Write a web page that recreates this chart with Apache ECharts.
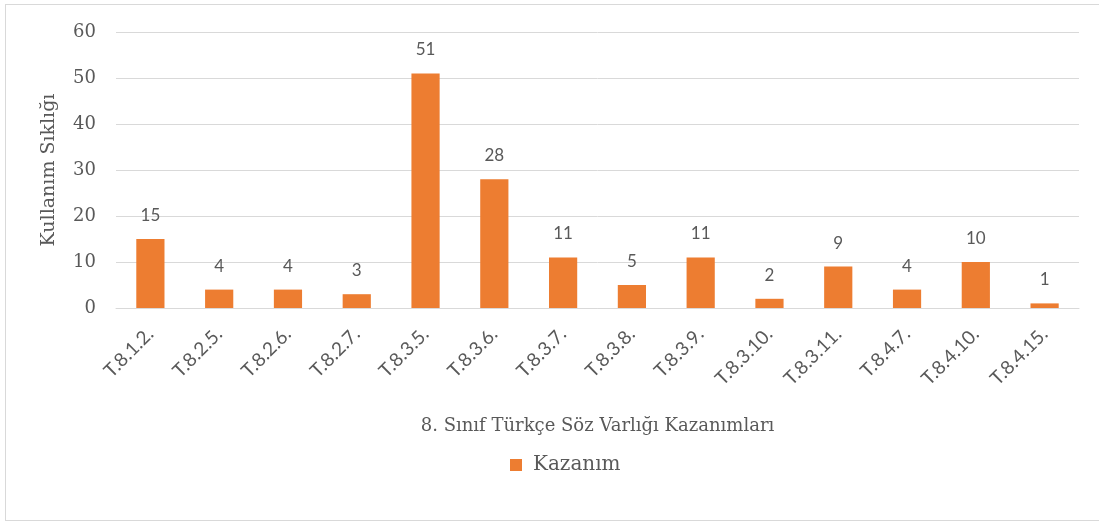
<!DOCTYPE html>
<html>
<head>
<meta charset="utf-8">
<script src="https://cdn.jsdelivr.net/npm/echarts@6/dist/echarts.min.js"></script>
<style>
  html, body { margin: 0; padding: 0; background: #fff; }
  #frame { position: absolute; left: 5px; top: 4px; width: 1100px; height: 517px;
           border: 1px solid #d9d9d9; box-sizing: border-box; }
  #main { position: absolute; left: 0; top: 0; width: 1099px; height: 523px; }
</style>
</head>
<body>
<div id="frame"></div>
<div id="main"></div>
<script>
// kazanım kodları ve kullanım sıklıkları
var categories = ['T.8.1.2.', 'T.8.2.5.', 'T.8.2.6.', 'T.8.2.7.', 'T.8.3.5.', 'T.8.3.6.', 'T.8.3.7.',
                  'T.8.3.8.', 'T.8.3.9.', 'T.8.3.10.', 'T.8.3.11.', 'T.8.4.7.', 'T.8.4.10.', 'T.8.4.15.'];
var kazanim = [15, 4, 4, 3, 51, 28, 11, 5, 11, 2, 9, 4, 10, 1];
var yTicks = [0, 10, 20, 30, 40, 50, 60];

var textColor = '#595959';
var serif = 'Georgia, "DejaVu Serif", "Liberation Serif", serif';
var sans = 'Lato, "Open Sans", sans-serif';

var myChart = echarts.init(document.getElementById('main'));
var option = {
  animation: false,
  grid: { left: 116, right: 20, top: 32, bottom: 215, containLabel: false },
  legend: {
    data: ['Kazanım'],
    left: 505,
    top: 450,
    itemWidth: 12,
    itemHeight: 12,
    icon: 'rect',
    textStyle: { color: textColor, fontFamily: serif, fontSize: 20, padding: [0, 0, 0, 6] }
  },
  xAxis: {
    type: 'category',
    data: categories,
    name: '8. Sınıf Türkçe Söz Varlığı Kazanımları',
    nameLocation: 'middle',
    nameGap: 109,
    nameTextStyle: { color: textColor, fontFamily: serif, fontSize: 18 },
    axisLine: { lineStyle: { color: '#d9d9d9', width: 1 } },
    axisTick: { show: false },
    axisLabel: { rotate: 45, interval: 0, margin: 23, color: textColor, fontFamily: sans, fontSize: 19 }
  },
  yAxis: {
    type: 'value',
    min: yTicks[0],
    max: yTicks[yTicks.length - 1],
    interval: 10,
    name: 'Kullanım Sıklığı',
    nameLocation: 'middle',
    nameGap: 57,
    nameTextStyle: { color: textColor, fontFamily: serif, fontSize: 19 },
    axisLine: { show: false },
    axisTick: { show: false },
    axisLabel: { margin: 20, color: textColor, fontFamily: serif, fontSize: 18 },
    splitLine: { lineStyle: { color: '#d9d9d9', width: 1 } }
  },
  series: [{
    name: 'Kazanım',
    type: 'bar',
    data: kazanim,
    barWidth: '41%',
    itemStyle: { color: '#ed7d31' },
    label: {
      show: true,
      position: 'top',
      distance: 15,
      color: textColor,
      fontFamily: sans,
      fontSize: 17
    }
  }]
};
myChart.setOption(option);
</script>
</body>
</html>
